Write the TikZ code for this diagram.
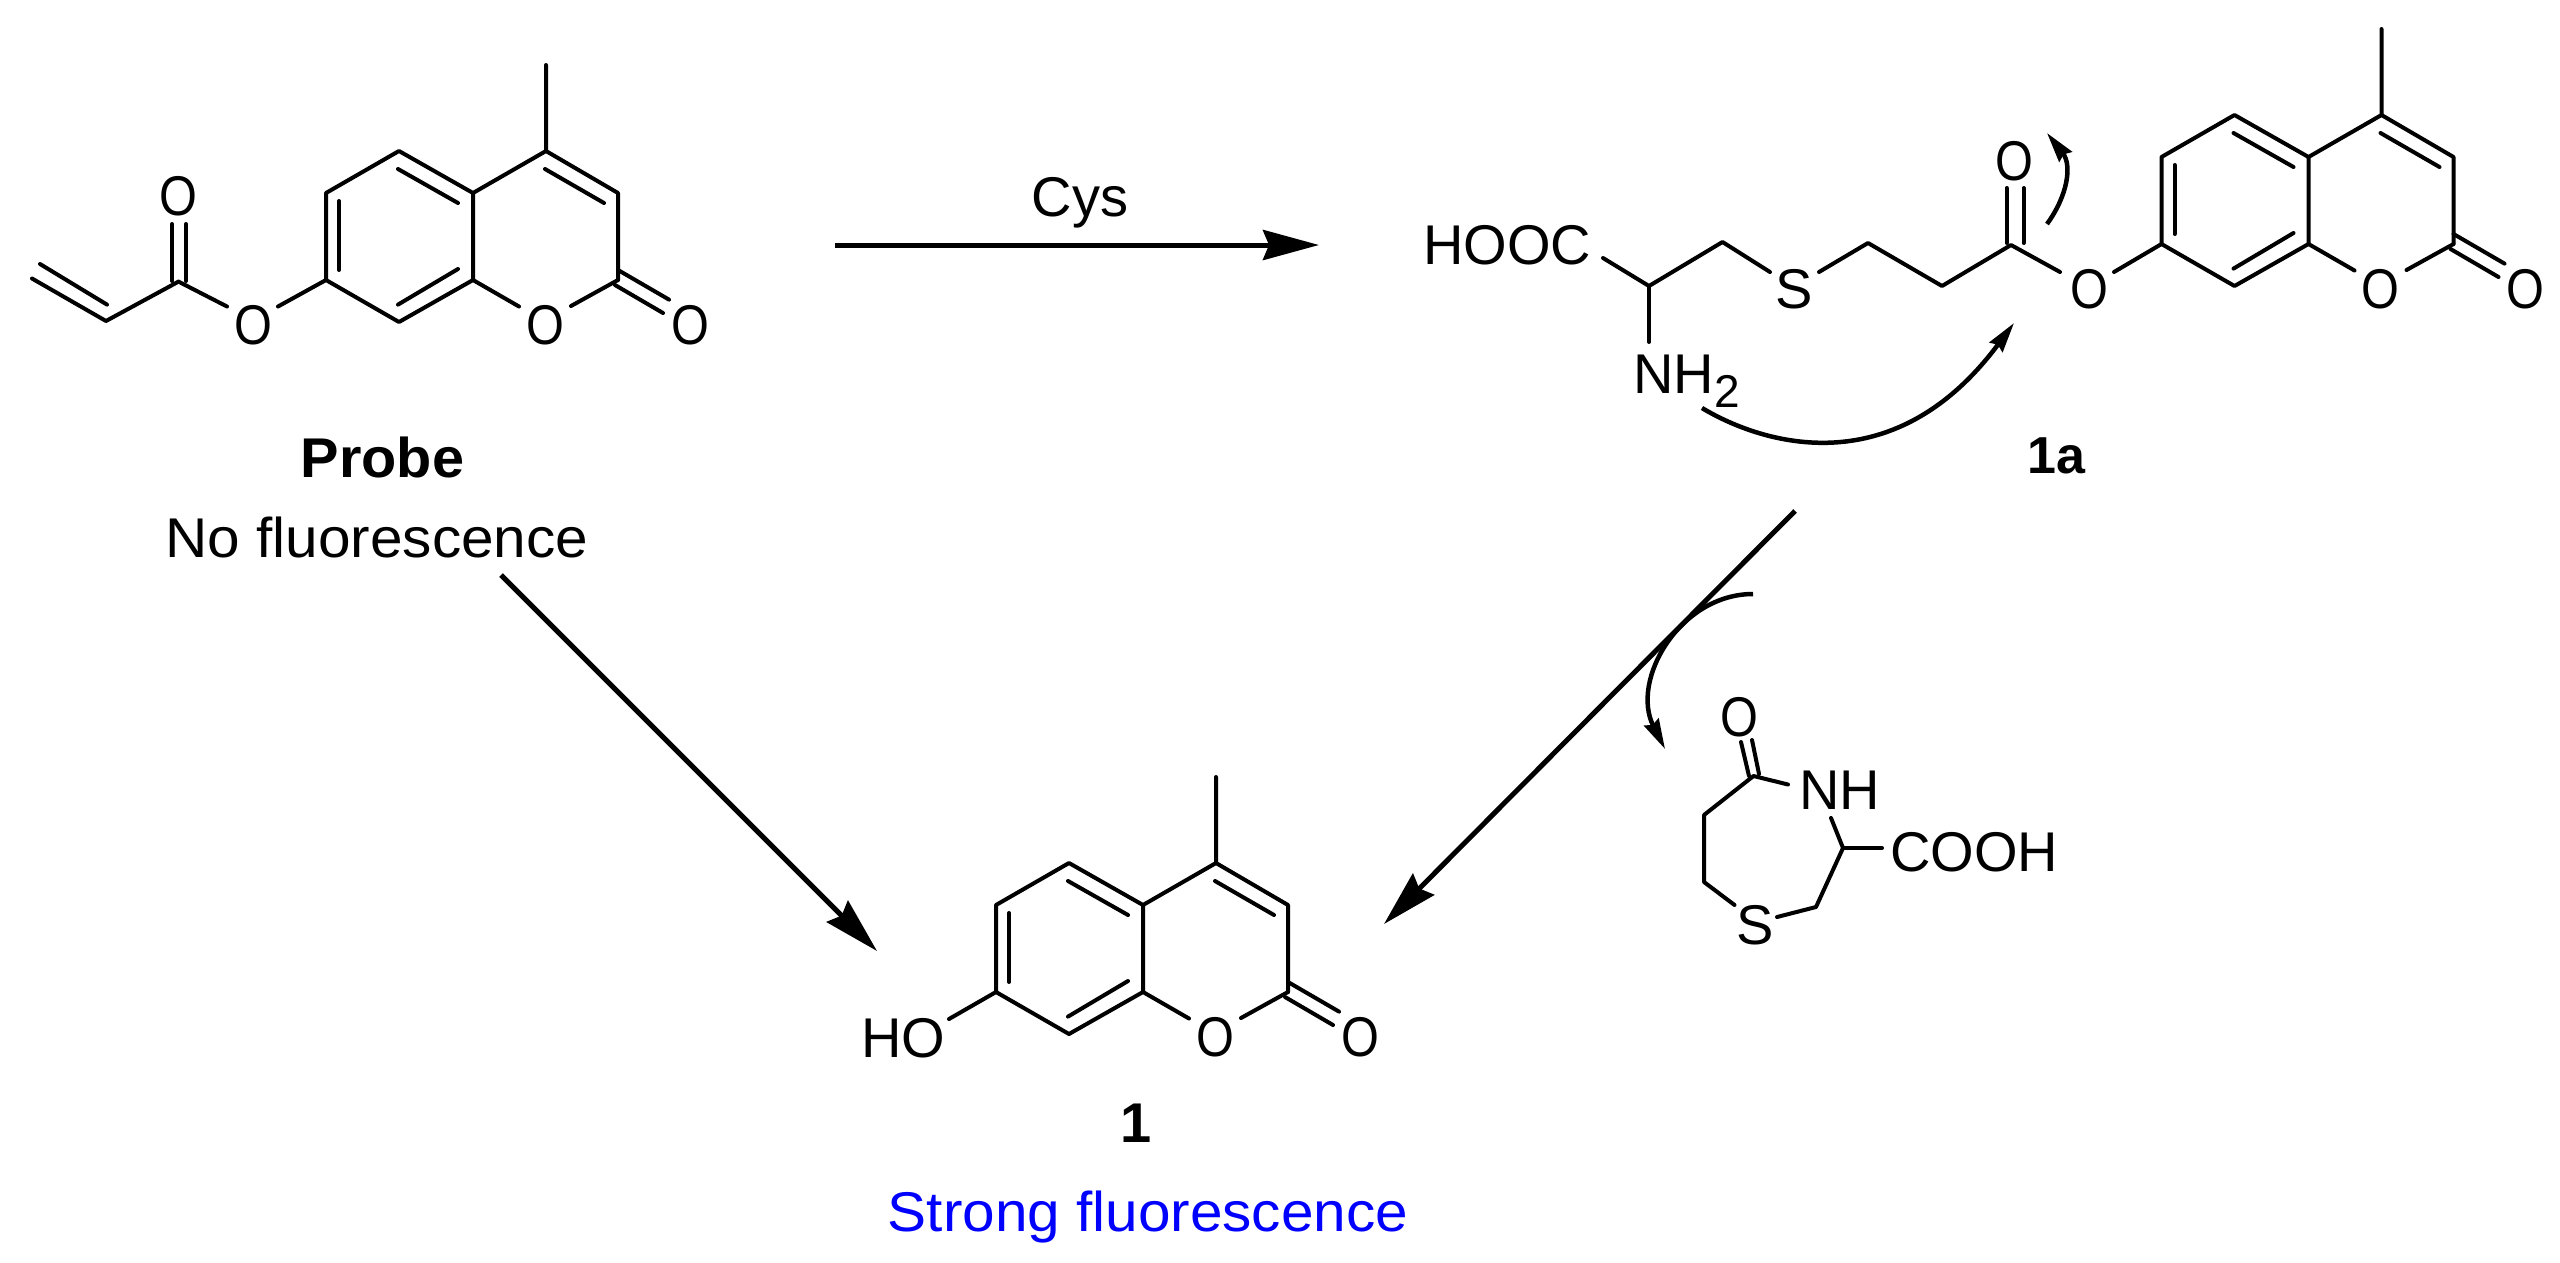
\documentclass[tikz,border=0pt]{standalone}
\usepackage{fontspec}
\usepackage{graphicx}
\setmainfont{Liberation Sans}
\usetikzlibrary{arrows.meta}
\definecolor{labelblue}{RGB}{0,0,255}
\tikzset{
  bond/.style={line width=4pt,line cap=round,line join=round},
  atom/.style={inner sep=0pt,anchor=base,font=\fontsize{56}{60}\selectfont},
  atomw/.style={inner sep=0pt,anchor=base west,font=\fontsize{56}{60}\selectfont},
  caption/.style={inner sep=0pt,anchor=base,font=\fontsize{56}{60}\selectfont},
  bigarrow/.style={line width=5pt,-{Stealth[length=56pt,width=30pt,inset=6pt]}},
  curlarrow/.style={line width=4.5pt,-{Stealth[length=30pt,width=16pt,inset=3pt]}}
}
\newcommand{\narrowO}{\scalebox{0.87}[1]{O}}
% coumarin core: #1 name prefix, #2,#3 position of C4
\newcommand{\coumarincore}[3]{%
\begin{scope}[shift={(#2,#3)}]
  \coordinate (#1c4) at (0,0);
  \coordinate (#1me) at (0,-86);
  \coordinate (#1c5) at (-147,0);
  \coordinate (#1c4a) at (-73,42);
  \coordinate (#1c6) at (-220,42);
  \coordinate (#1c7) at (-220,129);
  \coordinate (#1c8) at (-147,171);
  \coordinate (#1c8a) at (-73,129);
  \coordinate (#1c3) at (72,42);
  \coordinate (#1c2) at (72,129);
  \draw[bond] (#1me)--(#1c4)--(#1c3)--(#1c2);
  \draw[bond] (#1c4)--(#1c4a)--(#1c5)--(#1c6)--(#1c7)--(#1c8)--(#1c8a)--(#1c4a);
  \draw[bond] (-207,50)--(-207,119);
  \draw[bond] (-148,18)--(-88,52);
  \draw[bond] (-148,153.6)--(-88,118);
  \draw[bond] (-1,18)--(58,52);
  \draw[bond] (#1c8a)--(-27,155.5);
  \draw[bond] (25,155)--(#1c2);
  \draw[bond] (72,119)--(123,148.6);
  \draw[bond] (69,134)--(117,162);
  \node[atom] (#1oa) at (-1,193.5) {\narrowO};
  \node[atom] (#1ob) at (144,193.5) {\narrowO};
\end{scope}}
\begin{document}
\begin{tikzpicture}[x=1pt,y=-1pt]
\useasboundingbox (0,0) rectangle (2560,1262);

% ---------- Probe ----------
\coumarincore{p}{546}{151}
\coordinate (pcv) at (106,321);
\coordinate (pco) at (178.5,281.6);
\draw[bond] (32,278.5)--(pcv)--(pco);
\draw[bond] (40,264)--(107,304.6);
\draw[bond] (172,224)--(172,281);
\draw[bond] (186,224)--(186,281);
\draw[bond] (pco)--(227,306.5);
\draw[bond] (278,306.5)--(pc7);
\node[atom] (poc) at (178,215) {\narrowO};
\node[atom] (poe) at (253,344.5) {\narrowO};
\node[caption,font=\fontsize{56}{60}\selectfont\bfseries] (probe) at (382.5,477) {\scalebox{1.03}[1]{Probe}};
\node[caption] (nofl) at (377,557) {\scalebox{1.045}[1]{No fluorescence}};

% ---------- 1a ----------
\coumarincore{a}{2381.5}{115}
\coordinate (ach) at (1649,286);
\coordinate (acha) at (1722.5,242);
\coordinate (achb) at (1868,243);
\coordinate (achc) at (1942,286);
\coordinate (aco) at (2011,245);
\draw[bond] (1603,258)--(ach)--(acha)--(1770,272);
\draw[bond] (ach)--(1649,342);
\draw[bond] (1819,272)--(achb)--(achc)--(aco)--(2060,272);
\draw[bond] (2114,272)--(ac7);
\draw[bond] (2006.5,188)--(2006.5,243);
\draw[bond] (2023.5,188)--(2023.5,243);
\node[atomw] (hooc) at (1423,264.5) {HOOC};
\node[atom] (as) at (1794,308) {S};
\node[atom] (aoc) at (2014,180) {\narrowO};
\node[atom] (aoe) at (2089,308) {\narrowO};
\node[atomw] (anh) at (1633,393) {NH\raisebox{-14pt}{\fontsize{46}{50}\selectfont 2}};
\node[caption,font=\fontsize{52}{56}\selectfont\bfseries] (laba) at (2056,473) {1a};

% ---------- 1 ----------
\coumarincore{b}{1216}{863}
\draw[bond] (949,1019)--(bc7);
\node[atomw] (bho) at (861,1057) {HO};
\node[caption,font=\fontsize{56}{60}\selectfont\bfseries] (labb) at (1136,1142) {1};
\node[caption,text=labelblue] (strong) at (1148,1231) {\scalebox{1.045}[1]{Strong fluorescence}};

% ---------- thiazepane ----------
\coordinate (tco) at (1753.5,776);
\coordinate (tcha) at (1704,815);
\coordinate (tchb) at (1704,882);
\coordinate (tchc) at (1816,907);
\coordinate (tch) at (1843,848);
\draw[bond] (1741,742)--(1749,776);
\draw[bond] (1752,740)--(1759,774);
\draw[bond] (1788,784.5)--(tco)--(tcha)--(tchb)--(1734.5,905);
\draw[bond] (1777,917)--(tchc)--(tch)--(1831,818);
\draw[bond] (tch)--(1882,848);
\node[atom] (too) at (1739,736) {\narrowO};
\node[atomw] (tnh) at (1799,809) {NH};
\node[atom] (ts) at (1755,944) {S};
\node[atomw] (tcooh) at (1890,871) {COOH};

% ---------- arrows ----------
\node[caption] (cys) at (1080,216) {Cys};
\coordinate (cysa) at (835,245);
\coordinate (cysb) at (1319,245);
\coordinate (proa) at (501,575);
\coordinate (prob) at (877,951);
\coordinate (ara) at (1795,511);
\coordinate (arb) at (1384,924);
\draw[bigarrow] (cysa)--(cysb);
\draw[bigarrow] (proa)--(prob);
\draw[bigarrow] (ara)--(arb);
\coordinate (nha) at (1702,408);
\coordinate (nhb) at (2014,323);
\draw[curlarrow] (nha) .. controls (1755,440) and (1890,490) .. (nhb);
\coordinate (oa) at (2047,224);
\coordinate (ob) at (2047,133);
\draw[curlarrow] (oa) .. controls (2068,195) and (2072,165) .. (ob);
\coordinate (ba) at (1753,594);
\coordinate (bb) at (1665,749);
\draw[curlarrow] (ba) .. controls (1680,594) and (1630,680) .. (bb);
\end{tikzpicture}
\end{document}
